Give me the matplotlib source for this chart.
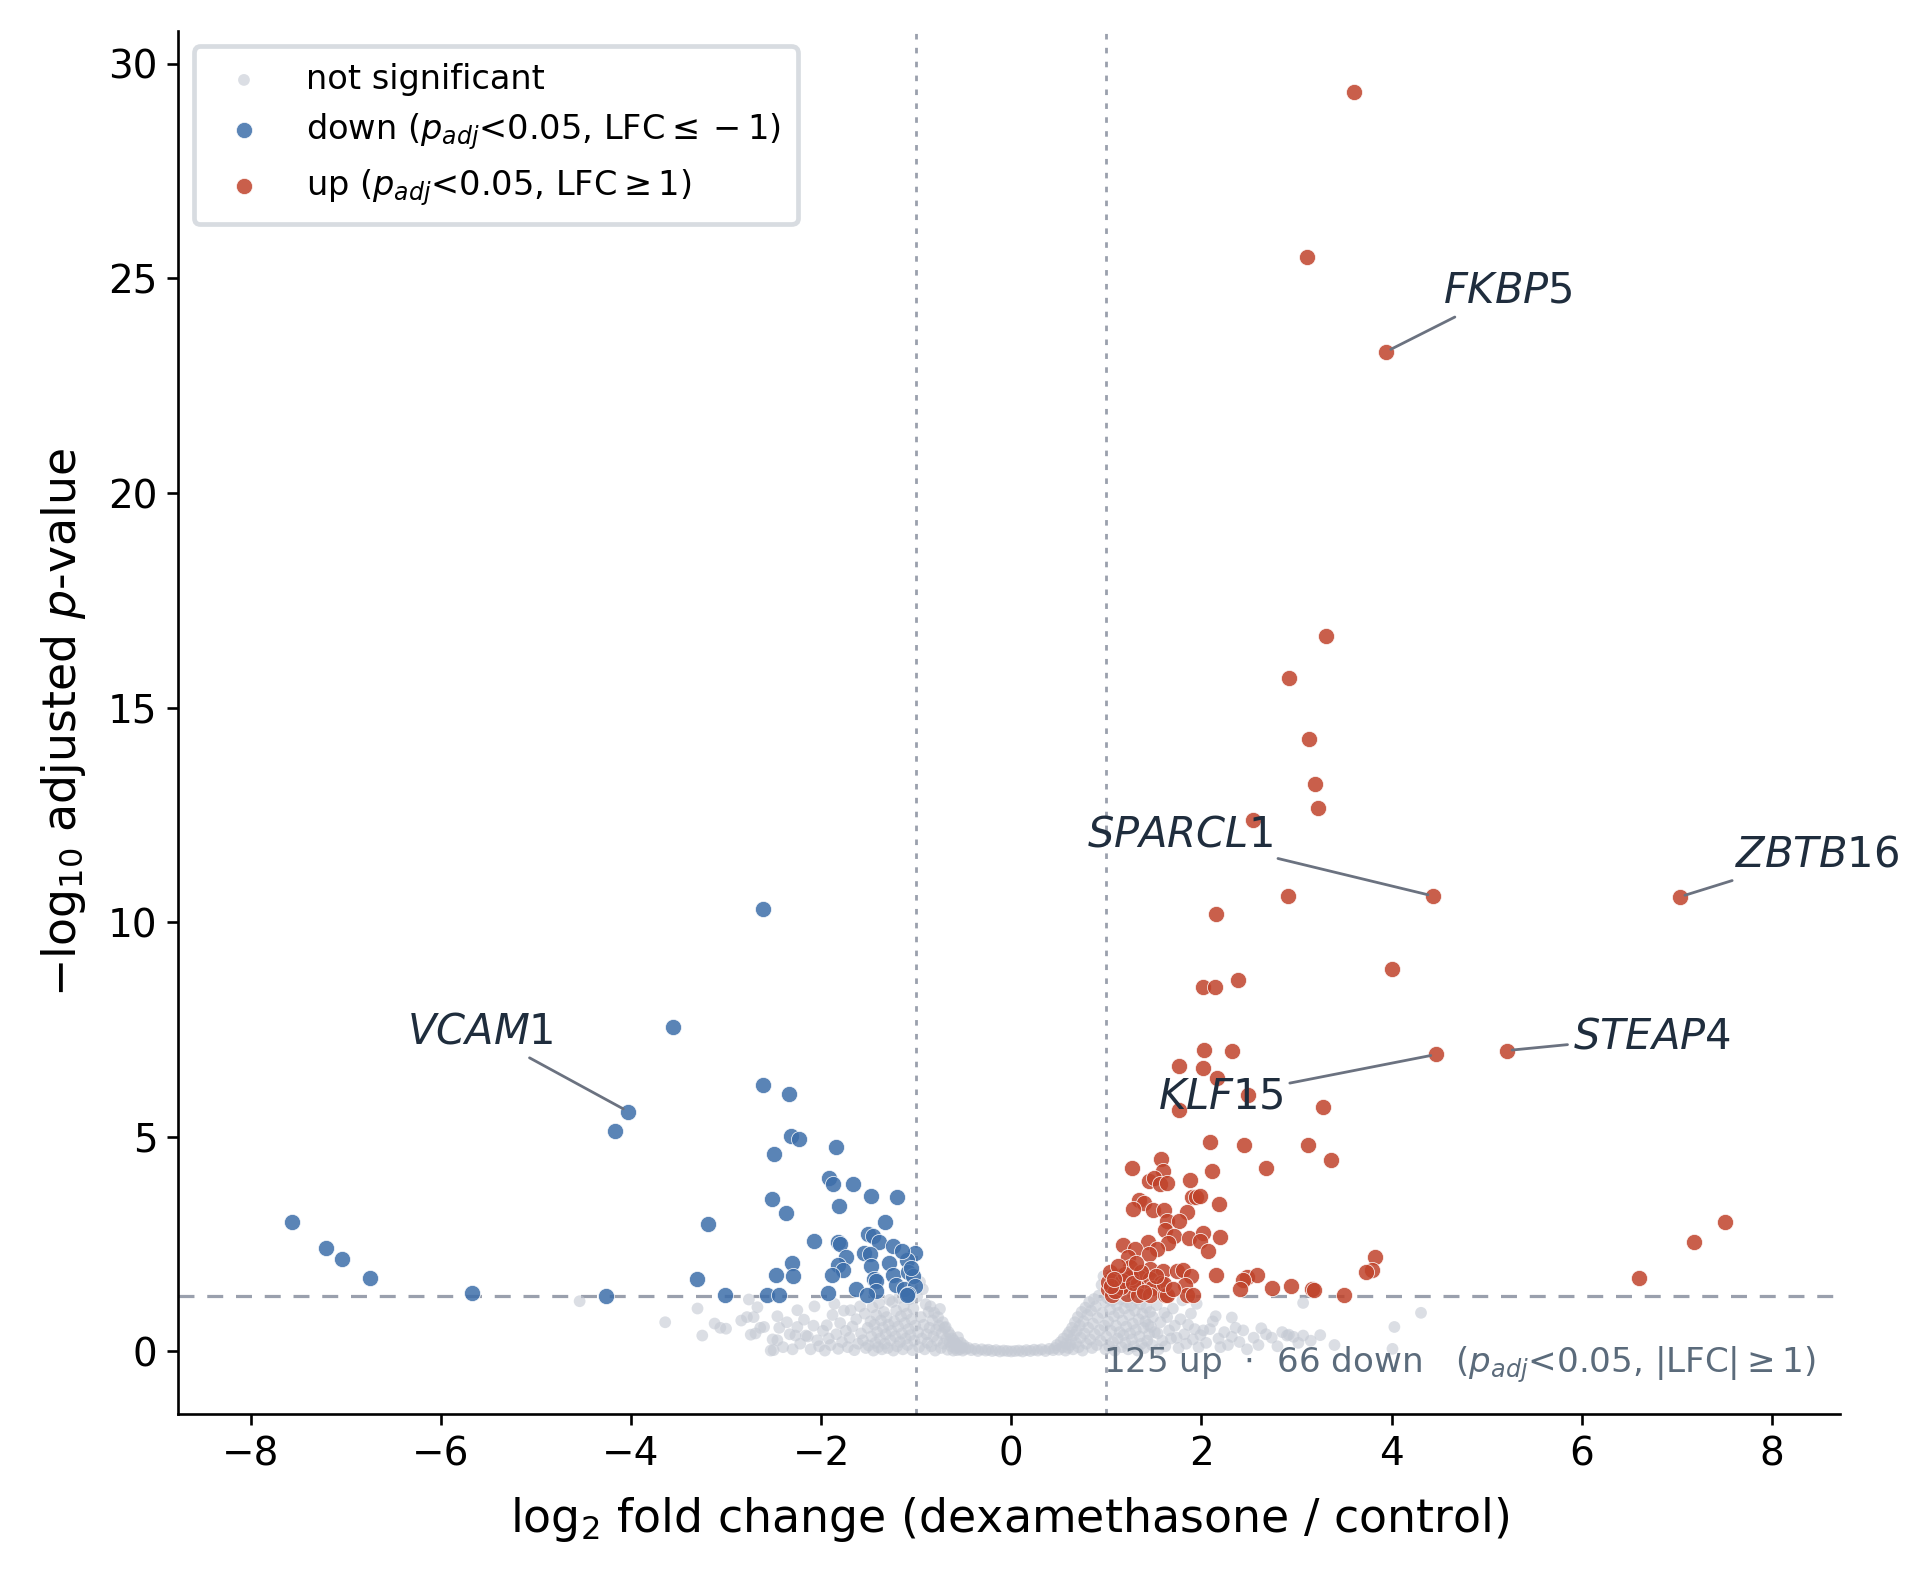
import matplotlib.pyplot as plt
import numpy as np

# ---- data ----
# not significant genes: log2 fold change / -log10 padj
ns_lfc = [-4.54, -3.64, -3.30, -3.25, -3.12, -3.06, -3.00, -2.84, -2.78, -2.76, -2.74, -2.71, -2.69, -2.67, -2.64, -2.60, -2.53, -2.50, -2.51,
          -2.46, -2.46, -2.44, -2.40, -2.36, -2.33, -2.30, -2.27, -2.25, -2.25, -2.22, -2.18, -2.16, -2.14, -2.11, -2.08, -2.07, -2.04, -2.02,
          -1.98, -1.96, -1.94, -1.92, -1.90, -1.88, -1.86, -1.84, -1.82, -1.80, -1.78, -1.76, -1.74, -1.72, -1.70, -1.69, -1.67, -1.65, -1.63, -1.61,
          -1.59, -1.58, -1.56, -1.54, -1.53, -1.51, -1.50, -1.48,
          -1.47, -1.46, -1.45, -1.44, -1.43, -1.42, -1.41, -1.40, -1.39, -1.38, -1.37, -1.36, -1.35, -1.34, -1.33, -1.32, -1.31, -1.30, -1.29, -1.28,
          -1.27, -1.26, -1.25, -1.24, -1.23, -1.22, -1.21, -1.20, -1.19, -1.18, -1.17, -1.16, -1.15, -1.14, -1.13, -1.12, -1.11, -1.10, -1.09, -1.08,
          -1.07, -1.06, -1.05, -1.04, -1.03, -1.02, -1.01,
          -0.99, -0.98, -0.97, -0.96, -0.95, -0.94, -0.93, -0.92, -0.91, -0.90, -0.89, -0.88, -0.87, -0.86, -0.85, -0.84, -0.83, -0.82, -0.81, -0.80,
          -0.79, -0.78, -0.77, -0.76, -0.75, -0.74, -0.73, -0.72, -0.71, -0.70, -0.69, -0.68, -0.67, -0.66, -0.65, -0.64, -0.63, -0.62, -0.61,
          -0.60, -0.59, -0.58, -0.57, -0.56, -0.55, -0.54, -0.53, -0.52, -0.51, -0.50, -0.48,
          -0.45, -0.42, -0.38, -0.35, -0.31, -0.27, -0.24, -0.20, -0.16, -0.12, -0.08, -0.04, 0.00, 0.04, 0.08, 0.12, 0.16, 0.20, 0.24, 0.28,
          0.32, 0.36, 0.40, 0.44,
          0.46, 0.48, 0.50, 0.52, 0.54, 0.55, 0.57, 0.58, 0.59, 0.60,
          0.61, 0.62, 0.63, 0.64, 0.65, 0.66, 0.67, 0.68, 0.69, 0.70, 0.71, 0.72, 0.73, 0.74, 0.75, 0.76, 0.77, 0.78, 0.79, 0.80,
          0.81, 0.82, 0.83, 0.84, 0.85, 0.86, 0.87, 0.88, 0.89, 0.90, 0.91, 0.92, 0.93, 0.94, 0.95, 0.96, 0.97, 0.98, 0.99, 0.99,
          1.00, 1.01, 1.02, 1.03, 1.04, 1.05, 1.06, 1.07, 1.08, 1.09, 1.10, 1.11, 1.12, 1.13, 1.14, 1.15, 1.16, 1.17, 1.18, 1.19,
          1.20, 1.21, 1.22, 1.23, 1.24, 1.25, 1.26, 1.27, 1.28, 1.29, 1.30, 1.31, 1.32, 1.33, 1.34, 1.35, 1.36, 1.37, 1.38, 1.39,
          1.40, 1.41, 1.42, 1.43, 1.44, 1.45, 1.46, 1.47, 1.48, 1.49,
          1.51, 1.53, 1.54, 1.55, 1.57, 1.59, 1.61, 1.62, 1.64, 1.66, 1.68, 1.70, 1.72, 1.74, 1.76, 1.78, 1.80, 1.82, 1.84, 1.86,
          1.89, 1.91, 1.93, 1.95, 1.97, 1.99,
          2.02, 2.05, 2.09, 2.12, 2.15, 2.18, 2.20, 2.24, 2.28, 2.32, 2.32, 2.36, 2.40, 2.44, 2.48,
          2.55, 2.60, 2.63, 2.68, 2.74, 2.80, 2.85, 2.90, 2.92, 2.97, 3.02, 3.07, 3.07, 3.15, 3.25, 3.40,
          4.01, 4.03, 4.31]
ns_nlp = [1.17, 0.68, 1.00, 0.37, 0.65, 0.55, 0.53, 0.72, 0.80, 1.21, 0.39, 0.80, 0.42, 1.03, 0.55, 0.57, 0.02, 0.03, 0.28,
          0.82, 0.26, 0.55, 0.10, 0.68, 0.40, 0.05, 0.37, 0.96, 0.57, 0.18, 0.74, 0.37, 0.35, 0.05, 0.60, 1.05, 0.26, 0.12,
          0.48, 0.02, 0.61, 0.30, 0.15, 0.85, 1.11, 0.40, 0.06, 0.66, 0.22, 0.95, 0.48, 0.10, 0.32, 0.96, 0.58, 0.03, 0.75, 0.18,
          1.05, 0.42, 0.26, 0.88, 0.08, 0.55, 0.14, 0.70,
          0.35, 1.03, 0.02, 0.62, 0.20, 0.85, 0.45, 0.10, 1.12, 0.30, 0.72, 0.05, 0.55, 0.92, 0.18, 0.40, 0.80, 0.08, 0.62, 1.20,
          0.26, 0.48, 1.15, 0.02, 0.70, 0.35, 0.95, 0.12, 0.58, 1.25, 0.22, 0.82, 0.42, 0.05, 1.05, 0.66, 0.30, 0.88, 0.15, 0.52,
          1.22, 0.38, 0.75, 0.03, 1.00, 0.25, 0.60,
          1.28, 0.45, 0.10, 1.62, 0.80, 0.30, 1.45, 0.62, 0.05, 1.10, 0.40, 0.20, 0.92, 0.55, 1.05, 0.12, 0.72, 0.35, 0.90, 0.02,
          0.50, 0.25, 0.80, 0.60, 0.99, 0.08, 0.42, 0.68, 0.18, 0.55, 0.57, 0.30, 0.04, 0.45, 0.22, 0.38, 0.12, 0.30, 0.02,
          0.25, 0.08, 0.18, 0.03, 0.33, 0.12, 0.05, 0.20, 0.10, 0.02, 0.14, 0.06,
          0.08, 0.03, 0.06, 0.01, 0.05, 0.02, 0.04, 0.01, 0.03, 0.00, 0.02, 0.01, 0.00, 0.01, 0.02, 0.00, 0.03, 0.01, 0.04, 0.02,
          0.05, 0.01, 0.06, 0.03,
          0.08, 0.15, 0.04, 0.22, 0.10, 0.30, 0.02, 0.18, 0.38, 0.08,
          0.45, 0.15, 0.28, 0.55, 0.05, 0.38, 0.68, 0.20, 0.48, 0.80, 0.10, 0.60, 0.32, 0.92, 0.02, 0.70, 0.42, 1.02, 0.18, 0.85,
          0.55, 1.15, 0.28, 0.95, 0.08, 0.65, 1.22, 0.40, 1.05, 0.15, 0.78, 1.30, 0.50, 0.25, 1.55, 0.90, 1.75, 0.60, 1.15, 0.05,
          0.35, 1.25, 0.70, 0.12, 0.98, 0.48, 1.18, 0.22, 0.82, 0.02, 0.60, 1.08, 0.30, 0.90, 0.45, 1.22, 0.10, 0.72, 0.38, 1.00,
          0.20, 0.58, 1.15, 0.05, 0.85, 0.42, 1.07, 0.28, 0.65, 0.12, 0.95, 0.50, 1.20, 0.02, 0.75, 0.35, 1.10, 0.18, 0.88, 0.55,
          0.08, 0.70, 1.02, 0.25, 0.62, 0.40, 0.92, 0.57, 0.15, 0.80,
          0.45, 1.08, 0.42, 0.05, 0.68, 0.25, 0.90, 0.12, 0.80, 0.49, 0.30, 1.00, 0.60, 0.32, 0.08, 0.75, 1.19, 0.40, 0.18, 0.62,
          0.88, 0.28, 0.52, 1.11, 0.10, 0.38,
          0.49, 0.20, 0.52, 0.70, 0.82, 0.30, 0.10, 0.45, 0.15, 0.79, 0.34, 0.55, 0.22, 0.49, 0.05,
          0.32, 0.15, 0.54, 0.40, 0.32, 0.12, 0.45, 0.37, 0.39, 0.34, 0.20, 1.13, 0.37, 0.25, 0.38, 0.15,
          0.06, 0.57, 0.90]

# significantly down-regulated
down_lfc = [-7.57, -7.21, -7.04, -6.74, -5.67, -4.26, -4.17, -4.03, -3.56, -2.61,
            -2.61, -2.34, -2.32, -2.23, -1.84, -2.50, -1.92, -1.88, -1.66, -2.52, -1.47, -1.20, -1.81, -2.37, -3.19,
            -1.33, -1.51, -1.45, -1.39, -2.08, -1.82, -1.80, -1.24, -1.55, -1.49, -1.74, -1.01, -1.10, -2.31, -1.47,
            -1.29, -1.82, -1.77, -2.47, -2.30, -1.89, -1.24, -1.09, -1.03, -1.44, -1.42, -3.31, -1.21, -1.13, -1.01,
            -1.63, -1.42, -1.93, -1.09, -3.01, -2.57, -2.44, -1.52, -1.10, -1.05, -1.15]
down_nlp = [3.01, 2.41, 2.15, 1.72, 1.35, 1.29, 5.13, 5.59, 7.57, 10.32,
            6.20, 5.99, 5.03, 4.94, 4.77, 4.61, 4.03, 3.91, 3.91, 3.56, 3.63, 3.59, 3.38, 3.23, 2.96,
            3.02, 2.73, 2.68, 2.55, 2.58, 2.56, 2.51, 2.45, 2.29, 2.27, 2.21, 2.29, 2.14, 2.06, 2.00,
            2.07, 2.02, 1.89, 1.79, 1.75, 1.79, 1.79, 1.86, 1.76, 1.68, 1.63, 1.68, 1.54, 1.46, 1.52,
            1.45, 1.41, 1.37, 1.33, 1.31, 1.31, 1.32, 1.32, 1.32, 1.95, 2.35]

# significantly up-regulated
up_lfc = [3.61, 3.11, 3.94, 3.31, 2.92, 3.13, 3.20, 3.23, 2.54, 2.91, 4.44, 7.03, 2.15, 4.01, 2.38, 2.02, 2.14,
          6.60, 7.18, 7.51,
          2.03, 2.32, 1.76, 2.02, 2.16, 2.49, 1.76, 3.28, 4.47, 5.21, 2.09, 2.45, 3.12, 3.36, 1.27, 2.68, 2.11, 1.57,
          1.60, 1.88, 1.45, 1.50, 1.56, 1.64, 1.90, 1.94, 1.99, 2.18, 1.34, 1.40, 1.28, 1.49, 1.61, 1.85, 1.64, 1.76,
          1.62, 1.71, 1.87, 2.02, 2.20, 1.99, 1.65, 1.44, 1.18, 1.30, 1.53, 1.45, 2.07, 1.23, 3.83, 3.79, 3.73, 1.25,
          1.46, 1.60, 1.74, 1.81, 1.89, 2.15, 2.48, 2.59, 2.44, 1.06, 1.13, 1.34, 1.46, 1.57, 1.83, 2.41, 2.74, 2.94,
          3.16, 3.18, 3.50, 1.02, 1.11, 1.22, 1.32, 1.48, 1.22, 1.06, 1.33, 1.46, 1.62, 1.64, 1.85, 1.91, 1.61, 1.02,
          1.15, 1.26,
          1.04, 1.09, 1.17, 1.20, 1.28, 1.36, 1.40, 1.12, 1.05, 1.31, 1.52, 1.70, 1.08]
up_nlp = [29.34, 25.49, 23.29, 16.66, 15.68, 14.26, 13.23, 12.67, 12.38, 10.61, 10.61, 10.59, 10.20, 8.90, 8.66, 8.48, 8.48,
          1.72, 2.55, 3.01,
          7.03, 7.01, 6.66, 6.61, 6.36, 5.98, 5.62, 5.70, 6.92, 7.01, 4.89, 4.82, 4.82, 4.47, 4.28, 4.28, 4.21, 4.48,
          4.21, 4.00, 3.96, 4.03, 3.89, 3.92, 3.59, 3.59, 3.61, 3.44, 3.54, 3.47, 3.32, 3.30, 3.30, 3.26, 3.05, 3.03,
          2.82, 2.68, 2.65, 2.77, 2.67, 2.57, 2.52, 2.55, 2.47, 2.39, 2.39, 2.28, 2.35, 2.20, 2.19, 1.89, 1.84, 1.96,
          1.93, 1.87, 1.87, 1.89, 1.75, 1.79, 1.74, 1.79, 1.66, 1.73, 1.76, 1.73, 1.69, 1.59, 1.55, 1.45, 1.47, 1.52,
          1.45, 1.44, 1.31, 1.46, 1.58, 1.54, 1.50, 1.48, 1.34, 1.31, 1.31, 1.32, 1.32, 1.31, 1.32, 1.32, 1.58, 1.62,
          1.50, 1.73,
          1.85, 1.40, 1.65, 1.80, 1.60, 1.85, 1.38, 2.00, 1.52, 2.05, 1.75, 1.45, 1.68]

# labelled genes
label_genes = ["FKBP5", "SPARCL1", "ZBTB16", "STEAP4", "KLF15", "VCAM1"]
label_lfc = [3.94, 4.44, 7.03, 5.21, 4.47, -4.03]
label_nlp = [23.29, 10.61, 10.59, 7.01, 6.92, 5.59]
label_offsets = [(1.28, 1.43), (-2.67, 1.43), (1.45, 1.0), (1.53, 0.33), (-2.26, -0.98), (-1.55, 1.87)]

padj_cut = 0.05
lfc_cut = 1

plt.rcParams["axes.linewidth"] = 0.95
plt.rcParams["xtick.major.width"] = 0.95
plt.rcParams["ytick.major.width"] = 0.95
plt.rcParams["xtick.major.size"] = 4.1
plt.rcParams["ytick.major.size"] = 4.1

fig = plt.figure(figsize=(9.645, 7.9), dpi=200)
ax = fig.add_axes([0.0925, 0.105, 0.8615, 0.8755])

ax.scatter(ns_lfc, ns_nlp, s=18, color="#c4c9d3", alpha=0.6, edgecolors="none",
           label="not significant", zorder=2)
ax.scatter(down_lfc, down_nlp, s=34, color="#3d6eaa", alpha=0.85, edgecolors="white", linewidths=0.3,
           label=r"down ($p_{adj}$<0.05, LFC$\leq-1$)", zorder=3)
ax.scatter(up_lfc, up_nlp, s=34, color="#c0432b", alpha=0.85, edgecolors="white", linewidths=0.3,
           label=r"up ($p_{adj}$<0.05, LFC$\geq$1)", zorder=3)

ax.axhline(-np.log10(padj_cut), color="#9aa0ad", lw=1.15, ls=(0, (5, 4)), zorder=1)
ax.axvline(-lfc_cut, color="#9aa0ad", lw=1.0, ls=(0, (2, 3)), zorder=1)
ax.axvline(lfc_cut, color="#9aa0ad", lw=1.0, ls=(0, (2, 3)), zorder=1)

for g, x, y, (dx, dy) in zip(label_genes, label_lfc, label_nlp, label_offsets):
    ax.annotate(f"${g}$", xy=(x, y), xytext=(x + dx, y + dy), ha="center", va="center",
                fontsize=15, color="#1f2d3d", zorder=5,
                arrowprops=dict(arrowstyle="-", color="#6b7280", lw=1.0, shrinkA=0, shrinkB=2))

ax.text(0.985, 0.036, r"125 up  $\cdot$  66 down   ($p_{adj}$<0.05, |LFC|$\geq$1)",
        transform=ax.transAxes, ha="right", va="center", fontsize=12.3, color="#5b6b7b")

ax.set_xlim(-8.76, 8.72)
ax.set_ylim(-1.46, 30.77)
ax.set_xticks(np.arange(-8, 9, 2))
ax.set_yticks(np.arange(0, 31, 5))
ax.tick_params(labelsize=14)
ax.spines["top"].set_visible(False)
ax.spines["right"].set_visible(False)

ax.set_xlabel(r"log$_2$ fold change (dexamethasone / control)", fontsize=16.5, labelpad=8)
ax.set_ylabel(r"$-$log$_{10}$ adjusted $p$-value", fontsize=16.5, labelpad=7)

leg = ax.legend(loc="upper left", fontsize=12.1, frameon=True, fancybox=True, labelspacing=0.45,
                borderpad=0.5, handletextpad=0.85, borderaxespad=0.45)
leg.get_frame().set_edgecolor("#cfd4da")
leg.get_frame().set_linewidth(1.7)

plt.savefig("out.png", dpi=200)
